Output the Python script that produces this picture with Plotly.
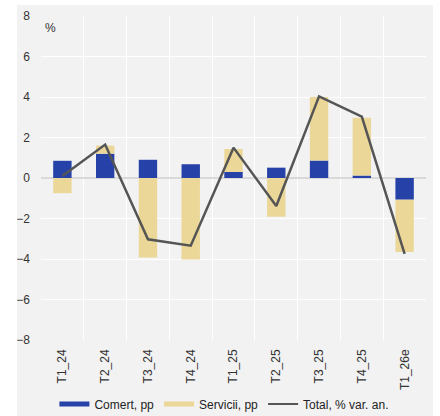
import plotly.graph_objects as go

categories = ["T1_24", "T2_24", "T3_24", "T4_24", "T1_25", "T2_25", "T3_25", "T4_25", "T1_26e"]
comert = [0.85, 1.2, 0.9, 0.68, 0.3, 0.51, 0.86, 0.12, -1.07]
servicii = [-0.75, 0.4, -3.93, -4.03, 1.13, -1.91, 3.14, 2.86, -2.58]
total = [0.1, 1.65, -3.03, -3.34, 1.5, -1.38, 4.03, 3.03, -3.75]
y_ticks = [-8, -6, -4, -2, 0, 2, 4, 6, 8]

BLUE = "#2641a7"
YELLOW = "#ebd898"
GREY = "#555555"
BG = "#f2f2f2"
FONT = "Liberation Sans, Arial, sans-serif"

PL, PR, PT, PB = 41, 426, 16, 340
PW, PH = PR - PL, PB - PT


def px_x(v):
    return (v - PL) / PW


def px_y(v):
    return (PB - v) / PH


fig = go.Figure()
fig.add_trace(go.Bar(x=categories, y=comert, name="Comert, pp", marker=dict(color=BLUE, line=dict(width=0)),
                     width=0.43, showlegend=False))
fig.add_trace(go.Bar(x=categories, y=servicii, name="Servicii, pp", marker=dict(color=YELLOW, line=dict(width=0)),
                     width=0.43, showlegend=False))
fig.add_trace(go.Scatter(x=categories, y=total, mode="lines", name="Total, % var. an.",
                         line=dict(color=GREY, width=2.5), showlegend=False))
# legend entries
fig.add_trace(go.Scatter(x=[None], y=[None], mode="lines", name="Comert, pp", line=dict(color=BLUE, width=5)))
fig.add_trace(go.Scatter(x=[None], y=[None], mode="lines", name="Servicii, pp", line=dict(color=YELLOW, width=5)))
fig.add_trace(go.Scatter(x=[None], y=[None], mode="lines", name="Total, % var. an.", line=dict(color=GREY, width=2)))

white = dict(type="rect", xref="paper", yref="paper", fillcolor="white", line=dict(width=0), layer="above")
fig.update_layout(
    width=440, height=416,
    margin=dict(l=PL, r=440 - PR, t=PT, b=416 - PB, pad=0, autoexpand=False),
    barmode="relative",
    paper_bgcolor=BG,
    plot_bgcolor=BG,
    font=dict(family=FONT, size=12, color="#333333"),
    legend=dict(orientation="h", xref="container", x=0.51, xanchor="center",
                yref="container", y=(416 - 404) / 416, yanchor="middle",
                bgcolor="rgba(0,0,0,0)", font=dict(size=12, color="#222222"),
                itemwidth=30, tracegroupgap=0),
    shapes=[
        dict(white, x0=px_x(0), x1=px_x(17), y0=px_y(420), y1=px_y(-4)),
        dict(white, x0=px_x(0), x1=px_x(444), y0=px_y(5), y1=px_y(-4)),
        dict(white, x0=px_x(433), x1=px_x(444), y0=px_y(420), y1=px_y(-4)),
    ],
    annotations=[dict(text="%", xref="paper", yref="paper", x=px_x(43), y=px_y(28),
                      xanchor="left", yanchor="middle", showarrow=False,
                      font=dict(size=12, color="#333333"))],
)
fig.update_xaxes(type="category", tickson="boundaries", showgrid=True, gridcolor="white", gridwidth=1,
                 tickangle=-90, ticks="", ticklabelstandoff=6, showline=False, zeroline=False,
                 automargin=False, tickfont=dict(size=12, color="#333333"))
fig.update_yaxes(range=[-8, 8], tickvals=y_ticks, showgrid=True, gridcolor="white", gridwidth=1,
                 zeroline=True, zerolinecolor="#d9d9d9", zerolinewidth=1.5, automargin=False,
                 ticks="", ticklabelstandoff=10, tickfont=dict(size=12, color="#333333"))

fig.write_html("out.html", config={"displayModeBar": False},
               post_script="document.body.style.margin='0';")
